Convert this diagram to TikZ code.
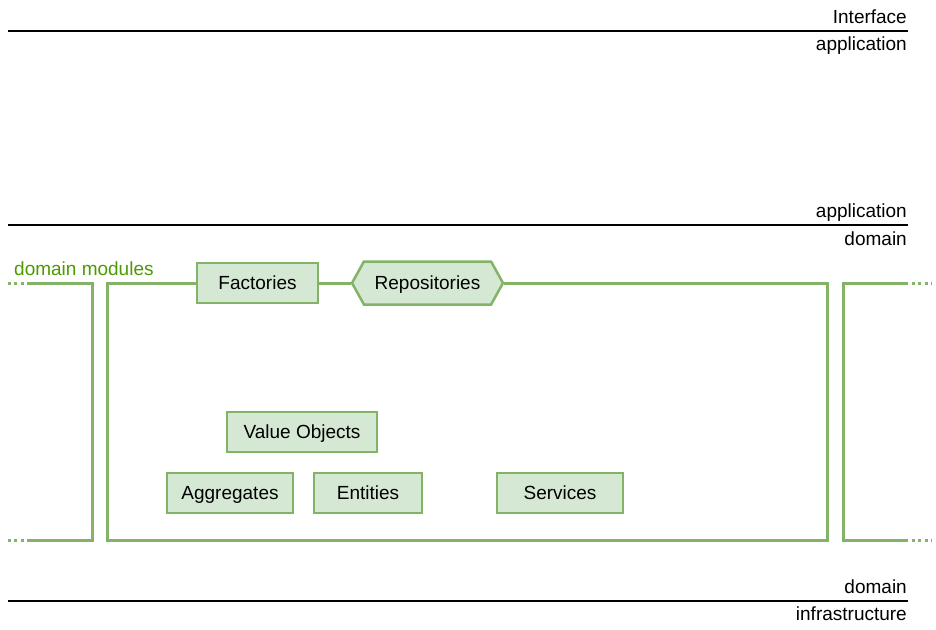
\documentclass[tikz,border=0pt]{standalone}
\usepackage{fontspec}
\setmainfont{Liberation Sans}
\usetikzlibrary{shapes.symbols}

\definecolor{modgreen}{HTML}{82B366}
\definecolor{modfill}{HTML}{D5E8D4}
\definecolor{modtext}{HTML}{4D9900}

\tikzset{
  layerline/.style={line width=2.5pt, black},
  layerlabel/.style={anchor=base east, inner sep=0pt, font=\fontsize{19}{22}\selectfont},
  module/.style={line width=3pt, modgreen, line join=miter},
  moduledots/.style={module, dash pattern=on 3pt off 3.5pt},
  partbox/.style={draw=modgreen, fill=modfill, line width=2.5pt, inner sep=0pt,
    minimum height=40pt, text height=13.6pt, text depth=0pt,
    font=\fontsize{19}{22}\selectfont}
}

\begin{document}
\begin{tikzpicture}[x=1pt, y=-1pt]
  \useasboundingbox (0,0) rectangle (936,629);

  % layer boundaries
  \coordinate (l1a) at (8,31);   \coordinate (l1b) at (908,31);
  \coordinate (l2a) at (8,225);  \coordinate (l2b) at (908,225);
  \coordinate (l3a) at (8,601);  \coordinate (l3b) at (908,601);
  \draw[layerline] (l1a) -- (l1b);
  \draw[layerline] (l2a) -- (l2b);
  \draw[layerline] (l3a) -- (l3b);
  \node[layerlabel] (iface) at (907,23) {Interface};
  \node[layerlabel] (app1) at (907,50) {application};
  \node[layerlabel] (app2) at (907,217) {application};
  \node[layerlabel] (dom1) at (907,245) {domain};
  \node[layerlabel] (dom2) at (907,593) {domain};
  \node[layerlabel] (infra) at (907,620) {infrastructure};

  \node[anchor=base west, inner sep=0pt, text=modtext, font=\fontsize{19}{22}\selectfont]
    (modlabel) at (14,275) {domain modules};

  % building blocks
  \node[partbox, minimum width=121pt] (fac) at (257.5,283) {Factories};
  \node[partbox, signal, signal to=west and east, signal pointer angle=122,
    minimum width=151pt, minimum height=43pt] (rep) at (427.5,283) {Repositories};
  \node[partbox, minimum width=150pt] (vo) at (302,432) {Value Objects};
  \node[partbox, minimum width=126pt] (agg) at (230,493) {Aggregates};
  \node[partbox, minimum width=108pt] (ent) at (368,493) {Entities};
  \node[partbox, minimum width=126pt] (serv) at (560,493) {Services};

  % main module
  \coordinate (mtl) at (107,283); \coordinate (mbl) at (107,540);
  \coordinate (mbr) at (827,540); \coordinate (mtr) at (827,283);
  \draw[module] (fac.west) -- (mtl) -- (mbl) -- (mbr) -- (mtr) -- (rep.east);
  \draw[module] (fac.east) -- (rep.west);

  % neighbouring modules
  \coordinate (ltop) at (30,283); \coordinate (lbot) at (30,540);
  \draw[module] (ltop) -- (92,283) -- (92,540) -- (lbot);
  \draw[moduledots] (ltop) -- (5,283);
  \draw[moduledots] (lbot) -- (5,540);
  \coordinate (rtop) at (905,283); \coordinate (rbot) at (905,540);
  \draw[module] (rtop) -- (843,283) -- (843,540) -- (rbot);
  \draw[moduledots] (rtop) -- (932,283);
  \draw[moduledots] (rbot) -- (932,540);
\end{tikzpicture}
\end{document}
